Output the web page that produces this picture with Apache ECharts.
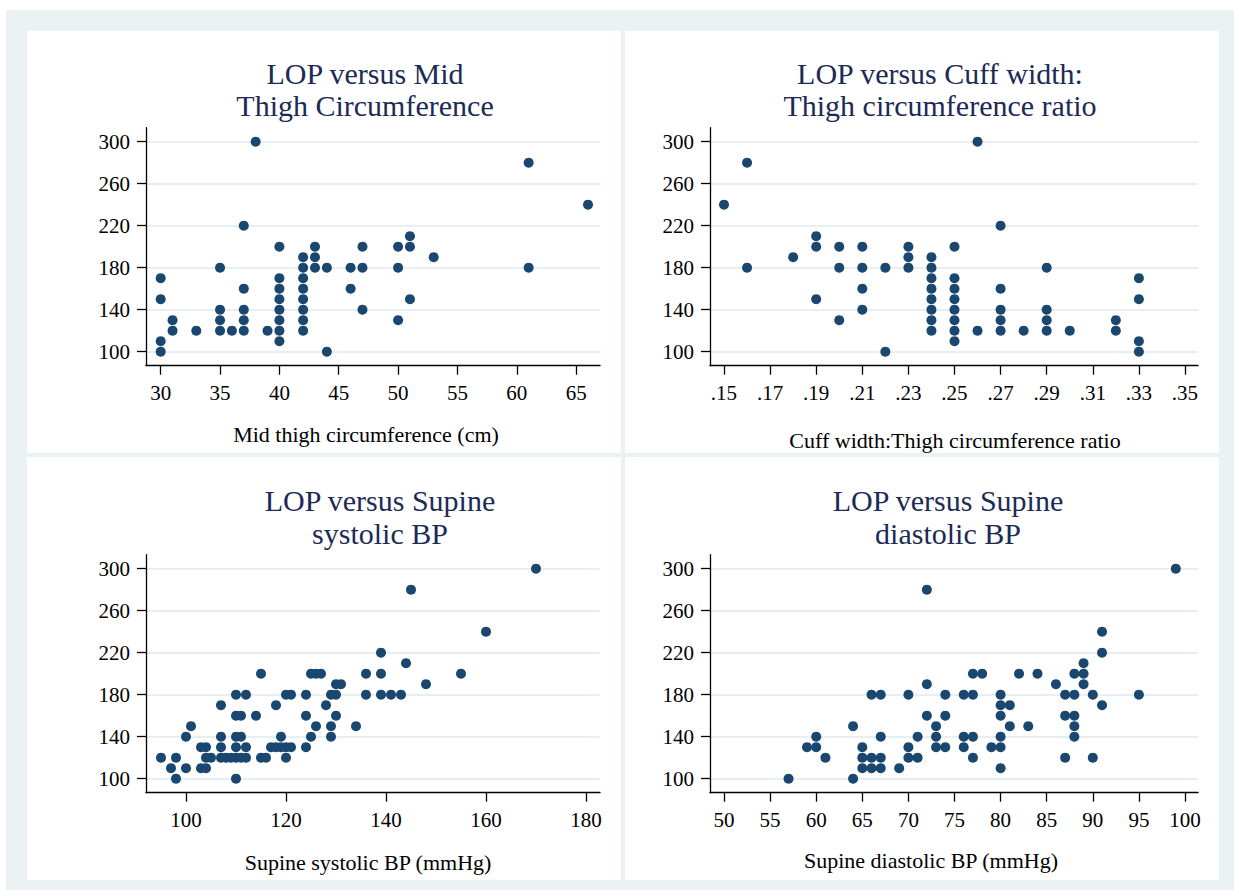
<!DOCTYPE html>
<html><head><meta charset="utf-8">
<script src="https://cdn.jsdelivr.net/npm/echarts@6/dist/echarts.min.js"></script>
<style>html,body{margin:0;padding:0;background:#fff}#c{width:1239px;height:896px}</style>
</head><body><div id="c"></div>
<script>
// ---- data ----
const yTicks = [100, 140, 180, 220, 260, 300];

const thighTicks = [30, 35, 40, 45, 50, 55, 60, 65];
const thighX = [38,37,40,43,42,43,47,30,35,42,43,44,46,47,40,42,30,37,40,42,46,40,42,35,37,40,42,47,31,35,37,40,42,31,33,35,36,37,39,40,42,30,40,30,44,61,66,51,50,51,53,50,61,51,50];
const thighLOP = [300,220,200,200,190,190,200,170,180,180,180,180,180,180,170,170,150,160,160,160,160,150,150,140,140,140,140,140,130,130,130,130,130,120,120,120,120,120,120,120,120,110,110,100,100,280,240,210,200,200,190,180,180,150,130];

const ratioTicks = [0.15, 0.17, 0.19, 0.21, 0.23, 0.25, 0.27, 0.29, 0.31, 0.33, 0.35];
const ratioX = [0.16,0.15,0.16,0.18,0.19,0.19,0.19,0.20,0.20,0.20,0.21,0.21,0.21,0.21,0.22,0.22,0.23,0.23,0.23,0.24,0.24,0.24,0.24,0.24,0.24,0.24,0.24,0.25,0.25,0.25,0.25,0.25,0.25,0.25,0.25,0.26,0.26,0.27,0.27,0.27,0.27,0.27,0.28,0.29,0.29,0.29,0.29,0.30,0.32,0.32,0.33,0.33,0.33,0.33];
const ratioLOP = [280,240,180,190,210,200,150,200,180,130,200,180,160,140,180,100,200,190,180,190,180,170,160,150,140,130,120,200,170,160,150,140,130,120,110,300,120,220,160,140,130,120,120,180,140,130,120,120,130,120,170,150,110,100];

const sysTicks = [100, 120, 140, 160, 180];
const sysX = [95,97,98,98,100,100,101,103,104,103,104,104,105,107,107,107,107,108,109,110,111,112,110,112,110,111,114,110,111,110,112,110,115,115,116,118,117,118,119,120,121,119,120,120,121,124,124,124,126,125,125,126,127,128,129,130,129,129,130,130,131,134,136,136,139,139,139,141,143,144,148,155,145,160,170];
const sysLOP = [120,110,120,100,140,110,150,130,130,110,110,120,120,170,140,130,120,120,120,120,120,120,180,180,160,160,160,140,140,130,130,100,200,120,120,170,130,130,130,130,130,140,120,180,180,180,160,130,150,140,200,200,200,170,180,180,150,140,160,190,190,150,200,180,220,200,180,180,180,210,190,200,280,240,300];

const diaTicks = [50, 55, 60, 65, 70, 75, 80, 85, 90, 95, 100];
const diaX = [57,59,60,60,61,64,64,65,65,65,66,66,66,67,67,67,67,69,70,70,70,71,71,72,72,72,73,73,73,74,74,74,99,91,91,91,89,88,89,89,86,87,88,90,95,87,88,88,88,87,90,82,84,83,77,78,76,77,76,77,76,77,79,80,80,81,80,81,80,80,80];
const diaLOP = [100,130,130,140,120,150,100,130,120,110,180,120,110,180,140,120,110,110,180,130,120,140,120,280,190,160,150,140,130,180,160,130,300,240,220,170,210,200,200,190,190,180,180,180,180,160,160,150,140,120,120,200,200,150,200,200,180,180,140,140,130,120,130,180,170,170,160,150,140,130,110];

const titles = [["LOP versus Mid", "Thigh Circumference"], ["LOP versus Cuff width:", "Thigh circumference ratio"], ["LOP versus Supine", "systolic BP"], ["LOP versus Supine", "diastolic BP"]];
const xTitles = ["Mid thigh circumference (cm)", "Cuff width:Thigh circumference ratio", "Supine systolic BP (mmHg)", "Supine diastolic BP (mmHg)"];

// ---- layout ----
const SERIF = '"Liberation Serif", "Times New Roman", serif';
const NAVY = '#1a476f';
const TITLE_C = '#1c2b55';
const GRIDC = '#e6eff1';
const grids = [
  {left: 146, top: 127.7, width: 454, height: 238},
  {left: 710, top: 127.7, width: 488, height: 238},
  {left: 146, top: 554.7, width: 454, height: 238},
  {left: 710, top: 554.7, width: 488, height: 238}
];
const xRanges = [[28.762, 67.01], [0.14393, 0.35564], [92, 182.8], [48.48, 101.41]];
const xTickSets = [thighTicks, ratioTicks, sysTicks, diaTicks];
const titleCx = [365, 940, 380, 948];
const titleY = [[73, 105], [73, 105], [500, 533], [500, 533]];
const xTitlePos = [[366, 434], [955, 440], [368, 862], [931, 860]];

const zip = (a, b) => a.map((v, i) => [v, b[i]]);
const seriesData = [zip(thighX, thighLOP), zip(ratioX, ratioLOP), zip(sysX, sysLOP), zip(diaX, diaLOP)];

const axisCommon = {
  axisLine: {show: true, onZero: false, lineStyle: {color: '#000', width: 1.3}},
  axisTick: {show: true, length: 9, lineStyle: {color: '#000', width: 1.3}},
};

const xAxes = [], yAxes = [], series = [];
for (let i = 0; i < 4; i++) {
  xAxes.push(Object.assign({}, axisCommon, {
    type: 'value', gridIndex: i, min: xRanges[i][0], max: xRanges[i][1],
    axisTick: Object.assign({}, axisCommon.axisTick, {customValues: xTickSets[i]}),
    axisLabel: {customValues: xTickSets[i], margin: 17, color: '#000', fontFamily: SERIF, fontSize: 21,
      formatter: i === 1 ? (v => '.' + Math.round(v * 100)) : (v => String(Math.round(v)))},
    splitLine: {show: false}
  }));
  yAxes.push(Object.assign({}, axisCommon, {
    type: 'value', gridIndex: i, min: 86.667, max: 313.333,
    axisTick: Object.assign({}, axisCommon.axisTick, {customValues: yTicks}),
    axisLabel: {customValues: yTicks, margin: 16, color: '#000', fontFamily: SERIF, fontSize: 21},
    splitLine: {show: true, lineStyle: {color: GRIDC, width: 2}}
  }));
  series.push({
    type: 'scatter', xAxisIndex: i, yAxisIndex: i, data: seriesData[i],
    symbol: 'circle', symbolSize: 10, itemStyle: {color: NAVY, opacity: 1}, z: 5
  });
}

const graphic = [
  {type: 'rect', shape: {x: 6, y: 10, width: 1228, height: 880}, style: {fill: '#eaf2f3'}, z: -10, silent: true},
  {type: 'rect', shape: {x: 27, y: 31, width: 594, height: 422}, style: {fill: '#fff'}, z: -9, silent: true},
  {type: 'rect', shape: {x: 625, y: 31, width: 594, height: 422}, style: {fill: '#fff'}, z: -9, silent: true},
  {type: 'rect', shape: {x: 27, y: 457, width: 594, height: 423}, style: {fill: '#fff'}, z: -9, silent: true},
  {type: 'rect', shape: {x: 625, y: 457, width: 594, height: 423}, style: {fill: '#fff'}, z: -9, silent: true}
];
for (let i = 0; i < 4; i++) {
  for (let k = 0; k < 2; k++) {
    graphic.push({type: 'text', x: titleCx[i], y: titleY[i][k], z: 10, silent: true,
      style: {text: titles[i][k], fill: TITLE_C, font: '30px ' + SERIF, textAlign: 'center', textVerticalAlign: 'middle'}});
  }
  graphic.push({type: 'text', x: xTitlePos[i][0], y: xTitlePos[i][1], z: 10, silent: true,
    style: {text: xTitles[i], fill: '#000', font: '22px ' + SERIF, textAlign: 'center', textVerticalAlign: 'middle'}});
}

const chart = echarts.init(document.getElementById('c'), null, {renderer: 'svg', width: 1239, height: 896});
chart.setOption({
  backgroundColor: '#fff',
  animation: false,
  grid: grids.map(g => Object.assign({containLabel: false}, g)),
  xAxis: xAxes, yAxis: yAxes, series: series, graphic: graphic
});
</script></body></html>
